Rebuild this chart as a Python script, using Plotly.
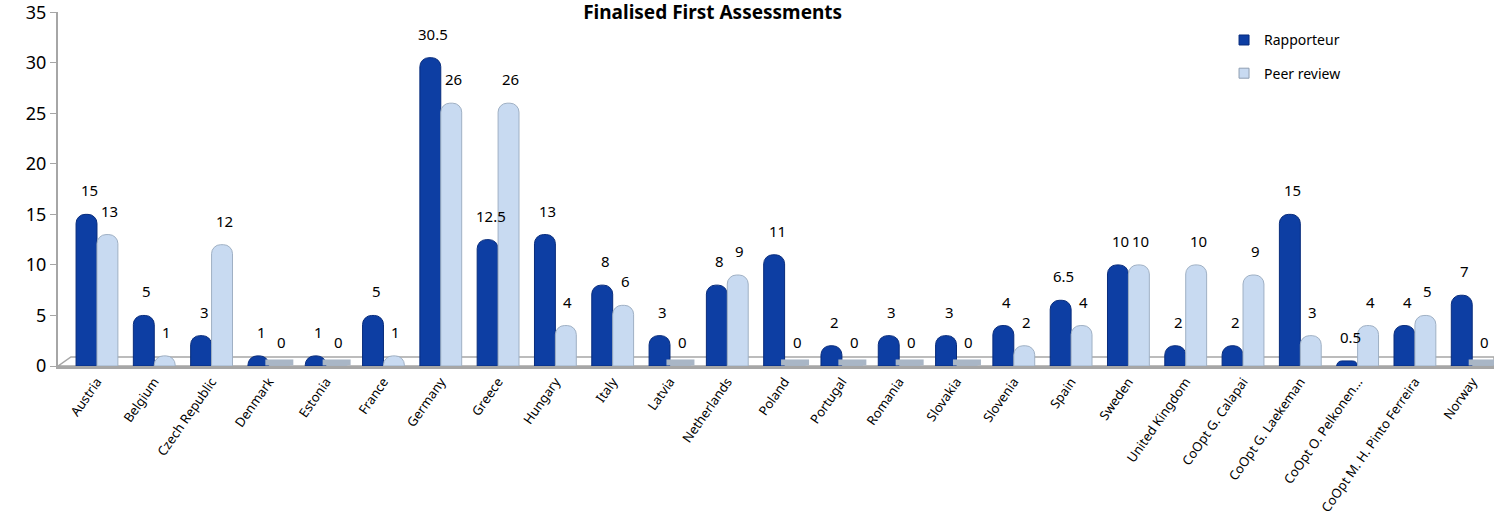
import plotly.graph_objects as go

categories = ["Austria", "Belgium", "Czech Republic", "Denmark", "Estonia", "France",
              "Germany", "Greece", "Hungary", "Italy", "Latvia", "Netherlands", "Poland",
              "Portugal", "Romania", "Slovakia", "Slovenia", "Spain", "Sweden",
              "United Kingdom", "CoOpt G. Calapai", "CoOpt G. Laekeman",
              "CoOpt O. Pelkonen...", "CoOpt M. H. Pinto Ferreira", "Norway"]
rapporteur = [15, 5, 3, 1, 1, 5, 30.5, 12.5, 13, 8, 3, 8, 11, 2, 3, 3, 4, 6.5, 10, 2, 2, 15, 0.5, 4, 7]
peer_review = [13, 1, 12, 0, 0, 1, 26, 26, 4, 6, 0, 9, 0, 0, 0, 0, 2, 4, 10, 10, 9, 3, 4, 5, 0]

FONT = "Noto Sans"
DARK = "#0d3ea3"
LIGHT = "#c8daf1"
BARGAP = 0.27

idx = list(range(len(categories)))
half = (1 - BARGAP) / 4  # centre offset of each bar inside a group

fig = go.Figure()
fig.add_trace(go.Bar(
    name="Rapporteur", x=idx, y=rapporteur, showlegend=False,
    marker=dict(color=DARK, line=dict(color="#082c7c", width=1), cornerradius=9),
))
fig.add_trace(go.Bar(
    name="Peer review", x=idx, y=peer_review, showlegend=False,
    marker=dict(color=LIGHT, line=dict(color="#9fb0c4", width=1), cornerradius=9),
))
# flat discs for zero values
zx = [i + half for i, v in zip(idx, peer_review) if v == 0]
fig.add_trace(go.Scatter(
    x=zx, y=[0.35] * len(zx), mode="markers", showlegend=False, hoverinfo="skip",
    marker=dict(symbol="line-ew", size=20, line=dict(color="#a9b6c6", width=6)),
))
# legend entries
fig.add_trace(go.Scatter(x=[None], y=[None], mode="markers", name="Rapporteur",
                         legendgroup="a",
                         marker=dict(symbol="square", size=10, color=DARK,
                                     line=dict(color="#082c7c", width=1))))
fig.add_trace(go.Scatter(x=[None], y=[None], mode="markers", name="Peer review",
                         legendgroup="b",
                         marker=dict(symbol="square", size=10, color=LIGHT,
                                     line=dict(color="#8f9fb3", width=1))))

def fmt(v):
    return str(int(v)) if float(v).is_integer() else str(v)

annotations = []
for i, v in zip(idx, rapporteur):
    annotations.append(dict(x=i - half, y=v, text=fmt(v), showarrow=False, xshift=3, yshift=24,
                            font=dict(family=FONT, size=15, color="#000")))
for i, v in zip(idx, peer_review):
    annotations.append(dict(x=i + half, y=v, text=fmt(v), showarrow=False, xshift=2, yshift=24,
                            font=dict(family=FONT, size=15, color="#000")))

fig.update_layout(
    width=1494, height=531,
    margin=dict(l=58, r=0, t=12, b=165),
    paper_bgcolor="white", plot_bgcolor="white",
    barmode="group", bargap=BARGAP, bargroupgap=0.0,
    title=dict(text="<b>Finalised First Assessments</b>", x=0.477, xref="container",
               xanchor="center", y=1 - 12 / 531, yref="container", yanchor="middle",
               font=dict(family=FONT, size=19, color="#000")),
    font=dict(family=FONT, color="#000"),
    legend=dict(x=0.812, y=0.965, xanchor="left", yanchor="top",
                font=dict(family=FONT, size=14), tracegroupgap=12,
                itemwidth=30, bgcolor="rgba(0,0,0,0)"),
    annotations=annotations,
    shapes=[dict(type="path", xref="paper", yref="y",
                 path="M 0,0 L 0.009,0.9 L 1,0.9 L 1,0 Z",
                 line=dict(color="#a6a6a6", width=1.5), fillcolor="white", layer="below")],
)
fig.update_xaxes(range=[-0.68, 24.38], tickmode="array", tickvals=idx, ticktext=categories,
                 tickangle=-55, tickfont=dict(family=FONT, size=13), showline=True,
                 linecolor="#a6a6a6", linewidth=3, ticks="", showgrid=False, zeroline=False)
fig.update_yaxes(range=[0, 35.02], tickvals=[0, 5, 10, 15, 20, 25, 30, 35], showgrid=False,
                 showline=True, linecolor="#a6a6a6", linewidth=2, ticks="outside", ticklen=6,
                 tickcolor="#a6a6a6", tickfont=dict(family=FONT, size=18), zeroline=False,
                 ticklabeloverflow="allow")

fig.write_html("out.html", config={"displayModeBar": False},
               post_script="document.body.style.margin='0';")
